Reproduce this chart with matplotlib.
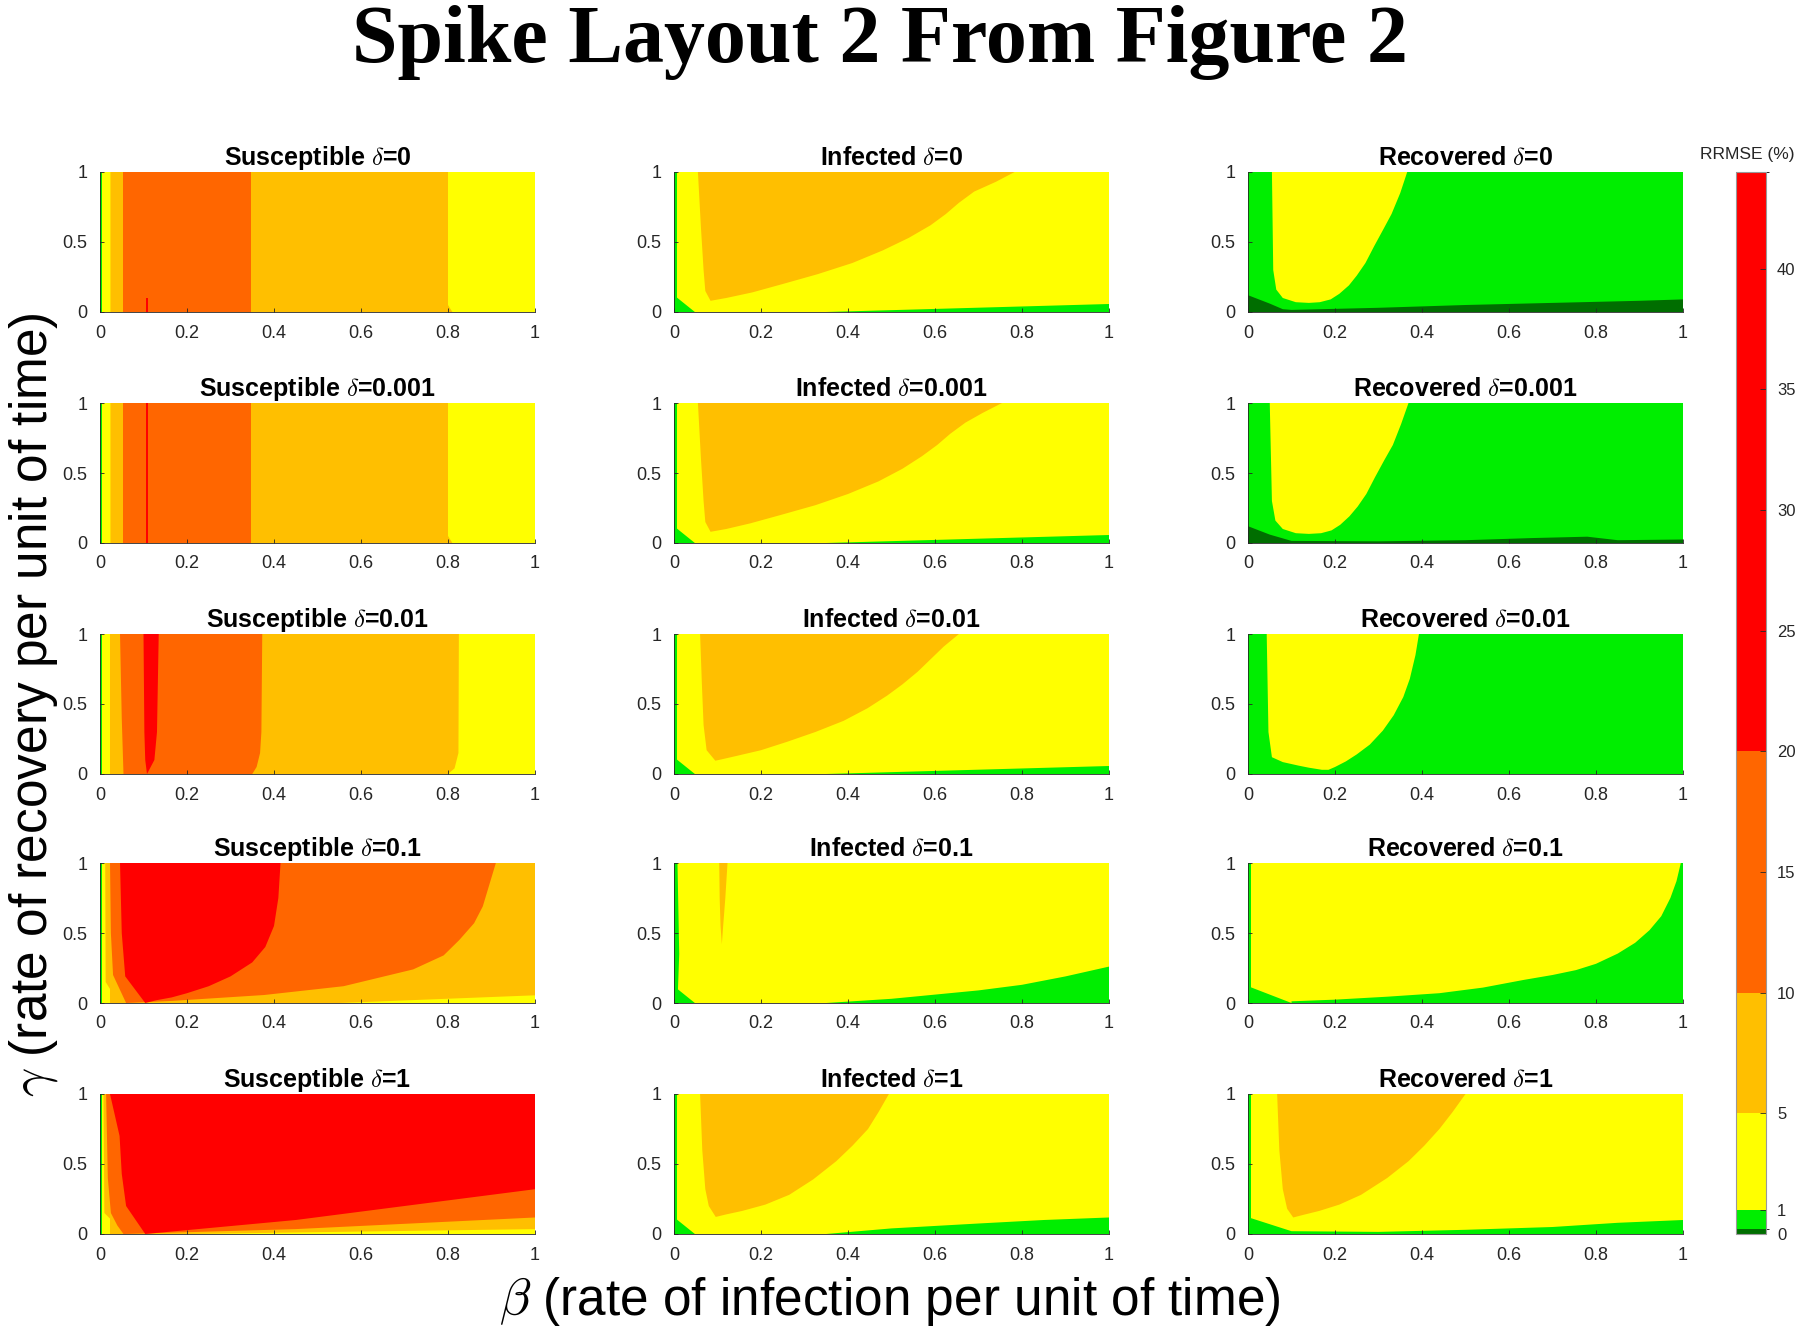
import matplotlib
matplotlib.use("Agg")
import matplotlib.pyplot as plt
from matplotlib.colors import ListedColormap, BoundaryNorm
from matplotlib.cm import ScalarMappable

plt.rcParams['mathtext.fontset'] = 'cm'
plt.rcParams['font.family'] = ['Liberation Sans', 'DejaVu Sans']

# ---------------- data ----------------
level_bounds = [0, 0.2, 1, 5, 10, 20, 44]
level_colors = ['#006e00', '#00ee00', '#ffff00', '#ffbf00', '#ff6600', '#ff0000']
cbar_ticks = [0, 1, 5, 10, 15, 20, 25, 30, 35, 40]
x_ticks = [0, 0.2, 0.4, 0.6, 0.8, 1]
x_ticklabels = ['0', '0.2', '0.4', '0.6', '0.8', '1']
y_ticks = [0, 0.5, 1]
y_ticklabels = ['0', '0.5', '1']
compartments = ['Susceptible', 'Infected', 'Recovered']
deltas = ['0', '0.001', '0.01', '0.1', '1']

# each panel: background level, then regions (level, beta list, gamma list), drawn in order
S_d0 = (2, [
    (3, [0.024, 0.024, 0.80, 0.80, 0.81], [0, 1, 1, 0.05, 0]),
    (4, [0.053, 0.053, 0.348, 0.348], [0, 1, 1, 0]),
    (5, [0.106, 0.106, 0.110, 0.110], [0, 0.1, 0.1, 0]),
    (1, [0, 0, 0.004, 0.004], [0, 1, 1, 0]),
])
S_d1 = (2, [
    (3, [0.024, 0.024, 0.80, 0.80, 0.81], [0, 1, 1, 0.05, 0]),
    (4, [0.053, 0.053, 0.348, 0.348], [0, 1, 1, 0]),
    (5, [0.106, 0.106, 0.111, 0.111], [0, 1, 1, 0]),
    (1, [0, 0, 0.004, 0.004], [0, 1, 1, 0]),
])
S_d2 = (2, [
    (3, [0.023, 0.023, 0.825, 0.824, 0.815, 0.80], [0, 1, 1, 0.15, 0.04, 0]),
    (4, [0.054, 0.05, 0.046, 0.373, 0.371, 0.368, 0.36, 0.35],
        [0, 0.4, 1, 1, 0.3, 0.15, 0.05, 0]),
    (5, [0.100, 0.135, 0.131, 0.125, 0.108, 0.104, 0.102],
        [1, 1, 0.3, 0.1, 0, 0.1, 0.3]),
    (1, [0, 0, 0.004, 0.004], [0, 1, 1, 0]),
])
S_d3 = (2, [
    (3, [0.012, 1, 1, 0.55, 0.023, 0.023, 0.013],
        [1, 1, 0.055, 0, 0, 0.1, 0.15]),
    (4, [0.023, 0.025, 0.03, 0.045, 0.06, 0.166, 0.377, 0.56, 0.72, 0.79, 0.826, 0.86, 0.88, 0.91],
        [1, 0.5, 0.2, 0.1, 0, 0.015, 0.057, 0.12, 0.24, 0.34, 0.45, 0.57, 0.69, 1]),
    (5, [0.046, 0.05, 0.058, 0.104, 0.13, 0.165, 0.2, 0.25, 0.3, 0.35, 0.38, 0.40, 0.41, 0.415],
        [1, 0.5, 0.19, 0, 0.02, 0.04, 0.07, 0.12, 0.19, 0.29, 0.4, 0.55, 0.75, 1]),
    (1, [0, 0, 0.004, 0.004], [0, 1, 1, 0]),
])
S_d4 = (2, [
    (3, [0.008, 1, 1, 0.2, 0.023, 0.023, 0.01],
        [1, 1, 0.035, 0, 0, 0.11, 0.15]),
    (4, [0.014, 1, 1, 0.45, 0.054, 0.04, 0.025, 0.018],
        [1, 1, 0.118, 0.035, 0, 0.06, 0.15, 0.4]),
    (5, [0.023, 1, 1, 0.45, 0.104, 0.06, 0.05, 0.045],
        [1, 1, 0.32, 0.1, 0, 0.2, 0.43, 0.7]),
    (1, [0, 0, 0.004, 0.004], [0, 1, 1, 0]),
])

I_d0 = (2, [
    (3, [0.055, 0.783, 0.74, 0.69, 0.655, 0.625, 0.59, 0.54, 0.48, 0.41, 0.33, 0.25,
         0.18, 0.12, 0.084, 0.072, 0.068, 0.062],
        [1, 1, 0.93, 0.86, 0.78, 0.70, 0.62, 0.53, 0.44, 0.35, 0.27, 0.20,
         0.14, 0.10, 0.08, 0.15, 0.3, 0.6]),
    (1, [0.35, 1, 1], [0, 0, 0.054]),
    (1, [0, 0, 0.048], [0, 0.12, 0]),
    (1, [0, 0, 0.008, 0.008], [0, 1, 1, 0]),
])
I_d1 = (2, [
    (3, [0.055, 0.754, 0.71, 0.67, 0.635, 0.605, 0.57, 0.525, 0.47, 0.40, 0.325, 0.245,
         0.175, 0.12, 0.084, 0.072, 0.068, 0.062],
        [1, 1, 0.93, 0.86, 0.78, 0.70, 0.62, 0.53, 0.44, 0.35, 0.27, 0.20,
         0.14, 0.10, 0.08, 0.15, 0.3, 0.6]),
    (1, [0.35, 1, 1], [0, 0, 0.054]),
    (1, [0, 0, 0.048], [0, 0.12, 0]),
    (1, [0, 0, 0.008, 0.008], [0, 1, 1, 0]),
])
I_d2 = (2, [
    (3, [0.06, 0.655, 0.62, 0.59, 0.56, 0.525, 0.49, 0.445, 0.39, 0.325, 0.26, 0.2,
         0.145, 0.11, 0.095, 0.075, 0.068, 0.064],
        [1, 1, 0.91, 0.82, 0.73, 0.64, 0.56, 0.47, 0.38, 0.30, 0.23, 0.17,
         0.13, 0.105, 0.095, 0.17, 0.35, 0.65]),
    (1, [0.35, 1, 1], [0, 0, 0.06]),
    (1, [0, 0, 0.048], [0, 0.12, 0]),
    (1, [0, 0, 0.008, 0.008], [0, 1, 1, 0]),
])
I_d3 = (2, [
    (3, [0.104, 0.123, 0.118, 0.113, 0.11, 0.107, 0.105], [1, 1, 0.75, 0.55, 0.42, 0.55, 0.75]),
    (1, [0.35, 1, 1, 0.9, 0.8, 0.7, 0.6, 0.5],
        [0, 0, 0.26, 0.19, 0.13, 0.09, 0.06, 0.03]),
    (1, [0, 0, 0.048], [0, 0.12, 0]),
    (1, [0, 0, 0.008, 0.012, 0.008], [0, 1, 1, 0.35, 0]),
])
I_d4 = (2, [
    (3, [0.06, 0.494, 0.47, 0.446, 0.41, 0.373, 0.32, 0.265, 0.21, 0.157, 0.12, 0.096,
         0.08, 0.072, 0.065],
        [1, 1, 0.87, 0.75, 0.63, 0.52, 0.39, 0.28, 0.21, 0.165, 0.14, 0.122,
         0.2, 0.32, 0.6]),
    (1, [0.35, 1, 1, 0.85, 0.7, 0.5], [0, 0, 0.118, 0.1, 0.075, 0.04]),
    (1, [0, 0, 0.048], [0, 0.12, 0]),
    (1, [0, 0, 0.008, 0.008], [0, 1, 1, 0]),
])

R_d0 = (1, [
    (2, [0.055, 0.366, 0.35, 0.33, 0.311, 0.29, 0.27, 0.25, 0.232, 0.21, 0.19, 0.165,
         0.14, 0.11, 0.08, 0.065, 0.058],
        [1, 1, 0.85, 0.7, 0.59, 0.47, 0.35, 0.26, 0.19, 0.13, 0.09, 0.07,
         0.065, 0.07, 0.1, 0.16, 0.3]),
    (0, [0, 0, 0.05, 0.08, 0.1, 0.3, 0.5, 0.7, 0.9, 1, 1],
        [0, 0.12, 0.06, 0.02, 0.015, 0.03, 0.05, 0.065, 0.08, 0.09, 0]),
])
R_d1 = (1, [
    (2, [0.05, 0.369, 0.352, 0.333, 0.313, 0.292, 0.272, 0.252, 0.233, 0.212, 0.192, 0.168,
         0.14, 0.11, 0.08, 0.063, 0.055],
        [1, 1, 0.85, 0.7, 0.59, 0.47, 0.35, 0.26, 0.19, 0.13, 0.09, 0.07,
         0.065, 0.07, 0.1, 0.16, 0.3]),
    (0, [0, 0, 0.05, 0.1, 0.3, 0.5, 0.65, 0.78, 0.85, 1, 1],
        [0, 0.12, 0.06, 0.015, 0.012, 0.02, 0.035, 0.045, 0.02, 0.025, 0]),
])
R_d2 = (1, [
    (2, [0.043, 0.393, 0.385, 0.372, 0.357, 0.335, 0.31, 0.28, 0.25, 0.225, 0.2, 0.185,
         0.17, 0.14, 0.116, 0.08, 0.055, 0.047],
        [1, 1, 0.85, 0.68, 0.55, 0.42, 0.31, 0.21, 0.14, 0.09, 0.05, 0.03,
         0.03, 0.045, 0.06, 0.085, 0.12, 0.3]),
])
R_d3 = (2, [
    (1, [0.1, 0.1, 0.2, 0.32, 0.44, 0.54, 0.634, 0.70, 0.754, 0.80, 0.85, 0.89, 0.923,
         0.95, 0.971, 0.985, 0.995, 1, 1],
        [0, 0.012, 0.024, 0.045, 0.07, 0.11, 0.165, 0.2, 0.235, 0.28, 0.353, 0.43, 0.52,
         0.62, 0.75, 0.87, 1, 1, 0]),
    (1, [0, 0, 0.1], [0, 0.12, 0]),
    (1, [0, 0, 0.006, 0.006], [0, 1, 1, 0]),
])
R_d4 = (2, [
    (3, [0.067, 0.5, 0.47, 0.44, 0.405, 0.369, 0.32, 0.26, 0.21, 0.164, 0.125, 0.104,
         0.09, 0.08, 0.072],
        [1, 1, 0.87, 0.75, 0.63, 0.52, 0.4, 0.28, 0.21, 0.165, 0.135, 0.118,
         0.18, 0.32, 0.6]),
    (1, [0, 0, 0.1, 0.3, 0.5, 0.7, 0.85, 1, 1],
        [0, 0.12, 0.02, 0.015, 0.03, 0.05, 0.08, 0.1, 0]),
    (1, [0, 0, 0.006, 0.006], [0, 1, 1, 0]),
])

panels = [
    [S_d0, I_d0, R_d0],
    [S_d1, I_d1, R_d1],
    [S_d2, I_d2, R_d2],
    [S_d3, I_d3, R_d3],
    [S_d4, I_d4, R_d4],
]

# ---------------- layout ----------------
W, H = 1800, 1333
fig = plt.figure(figsize=(W / 100, H / 100), dpi=100)
col_left = [100, 674, 1248]
row_top = [172, 403, 634, 863, 1094]
ax_w, ax_h = 435, 140
axis_gray = '#262626'

for r in range(5):
    for c in range(3):
        bg, regions = panels[r][c]
        ax = fig.add_axes([col_left[c] / W, 1 - (row_top[r] + ax_h) / H, ax_w / W, ax_h / H])
        ax.set_facecolor(level_colors[bg])
        for lvl, xs, ys in regions:
            ax.fill(xs, ys, color=level_colors[lvl], lw=0, zorder=1)
        ax.set_xlim(0, 1)
        ax.set_ylim(0, 1)
        ax.set_xticks(x_ticks)
        ax.set_xticklabels(x_ticklabels)
        ax.set_yticks(y_ticks)
        ax.set_yticklabels(y_ticklabels)
        ax.tick_params(direction='in', length=3, width=0.6, colors=axis_gray,
                       labelsize=13, pad=9)
        for s in ['top', 'right']:
            ax.spines[s].set_visible(False)
        for s in ['left', 'bottom']:
            ax.spines[s].set_color(axis_gray)
            ax.spines[s].set_linewidth(0.6)
        ax.set_title(compartments[c] + r' $\delta$=' + deltas[r],
                     fontsize=18, fontweight='bold', pad=5)

# colorbar
cax = fig.add_axes([1736 / W, 1 - 1234 / H, 30 / W, (1234 - 172) / H])
cmap = ListedColormap(level_colors)
norm = BoundaryNorm(level_bounds, cmap.N)
sm = ScalarMappable(norm=norm, cmap=cmap)
cb = fig.colorbar(sm, cax=cax, boundaries=level_bounds, spacing='proportional',
                  ticks=cbar_ticks)
cb.ax.tick_params(direction='in', length=4, width=0.6, colors=axis_gray,
                  labelsize=12, pad=8)
cb.outline.set_edgecolor('#999999')
cb.outline.set_linewidth(0.8)
cb.ax.set_yticklabels([str(t) for t in cbar_ticks])
fig.text(1747 / W, 1 - 155 / H, 'RRMSE (%)', ha='center', va='center',
         fontsize=12.5, color=axis_gray)

# titles and labels
fig.text(880 / W, 1 - 42 / H, 'Spike Layout 2 From Figure 2', ha='center', va='center',
         fontsize=59, fontweight='bold', family=['Liberation Serif', 'DejaVu Serif'])
fig.text(34 / W, 1 - 705 / H, r'$\gamma$ (rate of recovery per unit of time)',
         rotation=90, ha='center', va='center', fontsize=37)
fig.text(890 / W, 1 - 1302 / H, r'$\beta$ (rate of infection per unit of time)',
         ha='center', va='center', fontsize=37)

fig.savefig('out.png', dpi=100)
